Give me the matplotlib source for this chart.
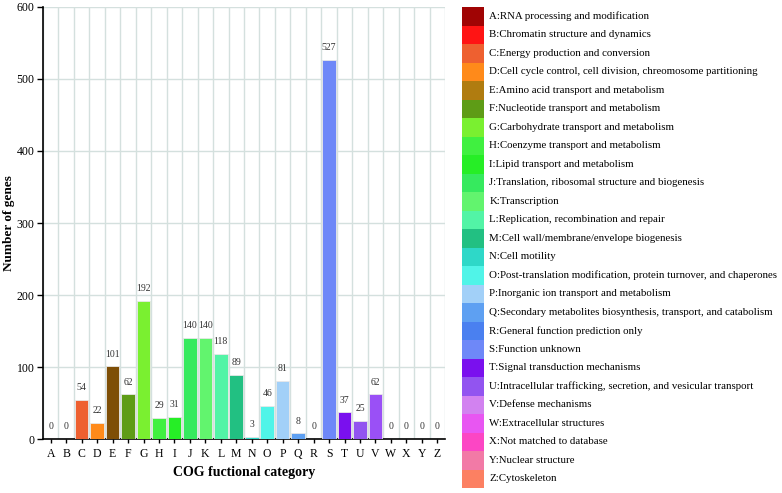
import matplotlib.pyplot as plt
from matplotlib.patches import Rectangle

plt.rcParams['font.family'] = ['Liberation Serif', 'DejaVu Serif']

codes = list("ABCDEFGHIJKLMNOPQRSTUVWXYZ")
counts = [0, 0, 54, 22, 101, 62, 192, 29, 31, 140, 140, 118, 89, 3, 46, 81, 8, 0,
          527, 37, 25, 62, 0, 0, 0, 0]
names = [
    "RNA processing and modification",
    "Chromatin structure and dynamics",
    "Energy production and conversion",
    "Cell cycle control, cell division, chreomosome partitioning",
    "Amino acid transport and metabolism",
    "Nucleotide transport and metabolism",
    "Carbohydrate transport and metabolism",
    "Coenzyme transport and metabolism",
    "Lipid transport and metabolism",
    "Translation, ribosomal structure and biogenesis",
    "Transcription",
    "Replication, recombination and repair",
    "Cell wall/membrane/envelope biogenesis",
    "Cell motility",
    "Post-translation modification, protein turnover, and chaperones",
    "Inorganic ion transport and metabolism",
    "Secondary metabolites biosynthesis, transport, and catabolism",
    "General function prediction only",
    "Function unknown",
    "Signal transduction mechanisms",
    "Intracellular trafficking, secretion, and vesicular transport",
    "Defense mechanisms",
    "Extracellular structures",
    "Not matched to database",
    "Nuclear structure",
    "Cytoskeleton",
]
legend_colors = ["#a00404", "#ff1414", "#ee6030", "#ff8a1a", "#b07c10", "#5e9c16",
                 "#7af030", "#40f040", "#26ee26", "#36ea5e", "#62f46e", "#52f4a6",
                 "#22c082", "#2ed8c8", "#50f4e8", "#a2d0f8", "#5ea0f2", "#4a80f0",
                 "#6e88f8", "#7a10ee", "#9254f0", "#d282f0", "#e856f2", "#fc46c4",
                 "#f27aa6", "#fc8062"]
bar_colors = list(legend_colors)
bar_colors[4] = "#7e4e06"
bar_colors[21] = "#9a50f6"

fig = plt.figure(figsize=(7.82, 4.93), dpi=100)
ax = fig.add_axes([43 / 782, 54 / 493, 402 / 782, 432 / 493])

x = range(len(codes))
bars = ax.bar(x, counts, width=0.88, color=bar_colors, edgecolor="#e8e8e8",
              linewidth=0.6, zorder=3)
for xi, v in zip(x, counts):
    ax.text(xi, v + 17, str(v), ha="center", va="center", fontsize=7, color="#333333")

ax.set_xlim(-0.5, 25.5)
ax.set_ylim(0, 600)
ax.set_yticks(range(0, 601, 100))
ax.set_xticks(list(x))
ax.set_xticklabels(codes, fontsize=8.5)
ax.tick_params(axis="y", labelsize=8.5, length=4, width=1, pad=2)
ax.tick_params(axis="x", length=3, width=1)
ax.set_xticks([i + 0.5 for i in range(-1, 26)], minor=True)
ax.tick_params(axis="x", which="minor", length=0)
ax.grid(axis="x", which="minor", color="#d4e0de", linewidth=1, zorder=0)
ax.grid(axis="y", which="major", color="#d4e0de", linewidth=1, zorder=0)
ax.grid(axis="x", which="major", visible=False)
for s in ["top", "right"]:
    ax.spines[s].set_visible(False)
ax.spines["left"].set_linewidth(1.2)
ax.spines["bottom"].set_linewidth(1.2)
ax.set_xlabel("COG fuctional category", fontsize=10, fontweight="bold", labelpad=4)
ax.set_ylabel("Number of genes", fontsize=9.5, fontweight="bold", labelpad=1)

# colour key on the right
lax = fig.add_axes([462 / 782, 5 / 493, 320 / 782, 481 / 493])
n = len(codes)
for i, (c, name, col) in enumerate(zip(codes, names, legend_colors)):
    lax.add_patch(Rectangle((0, n - 1 - i), 1, 1, facecolor=col, edgecolor="none"))
    lax.text(1.25, n - 0.5 - i, f"{c}:{name}", va="center", ha="left", fontsize=7.8)
lax.set_xlim(0, 320 / 22)
lax.set_ylim(0, n)
lax.axis("off")

fig.savefig("out.png", dpi=100)
